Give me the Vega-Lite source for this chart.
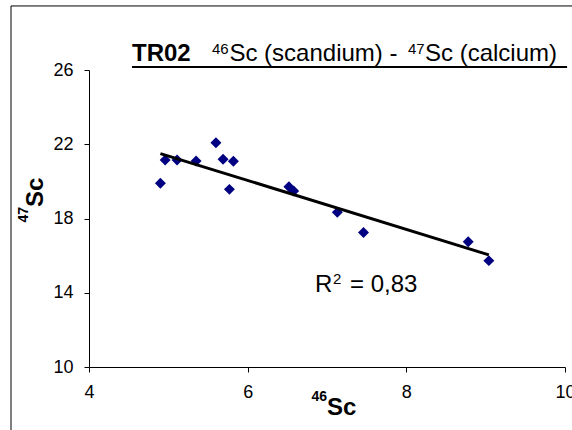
{
  "$schema": "https://vega.github.io/schema/vega-lite/v6.json",
  "autosize": {"type": "none"},
  "padding": {"left": 89, "top": 70, "right": 7, "bottom": 63},
  "width": 476,
  "height": 297,
  "background": "white",
  "config": {
    "view": {"stroke": null},
    "font": "Liberation Sans",
    "axis": {
      "grid": false,
      "domainColor": "black",
      "domainWidth": 1,
      "tickColor": "black",
      "tickSize": 5,
      "labelColor": "black",
      "labelFont": "Liberation Sans",
      "labelFontSize": 18,
      "labelFlush": false,
      "labelOverlap": false,
      "format": "d"
    }
  },
  "layer": [
    {
      "data": {"values": [{}]},
      "mark": {"type": "rect", "fill": null, "stroke": "black", "strokeWidth": 1, "clip": false},
      "encoding": {
        "x": {"datum": 3.017, "type": "quantitative"},
        "x2": {"datum": 11.5},
        "y": {"datum": 29.45, "type": "quantitative"},
        "y2": {"datum": 3.5}
      }
    },
    {
      "data": {"values": [
        {"sc46": 5.60, "sc47": 22.08},
        {"sc46": 4.96, "sc47": 21.15},
        {"sc46": 5.11, "sc47": 21.15},
        {"sc46": 5.35, "sc47": 21.10},
        {"sc46": 5.69, "sc47": 21.19},
        {"sc46": 5.82, "sc47": 21.08},
        {"sc46": 4.90, "sc47": 19.90},
        {"sc46": 5.77, "sc47": 19.57},
        {"sc46": 6.52, "sc47": 19.71},
        {"sc46": 6.58, "sc47": 19.48},
        {"sc46": 7.13, "sc47": 18.33},
        {"sc46": 7.46, "sc47": 17.25},
        {"sc46": 8.78, "sc47": 16.75},
        {"sc46": 9.04, "sc47": 15.73}
      ]},
      "layer": [
        {
          "mark": {"type": "point", "shape": "diamond", "filled": true, "color": "#000080", "size": 120, "opacity": 1},
          "encoding": {
            "x": {
              "field": "sc46", "type": "quantitative",
              "scale": {"domain": [4, 10], "nice": false, "zero": false},
              "axis": {"values": [4, 6, 8, 10], "title": null, "labelPadding": 11, "format": "d"}
            },
            "y": {
              "field": "sc47", "type": "quantitative",
              "scale": {"domain": [10, 26], "nice": false, "zero": false},
              "axis": {"values": [10, 14, 18, 22, 26], "title": null, "labelPadding": 11, "format": "d"}
            }
          }
        },
        {
          "transform": [{"regression": "sc47", "on": "sc46"}],
          "mark": {"type": "line", "color": "black", "strokeWidth": 3},
          "encoding": {
            "x": {"field": "sc46", "type": "quantitative"},
            "y": {"field": "sc47", "type": "quantitative"}
          }
        }
      ]
    },
    {
      "data": {"values": [{}]},
      "mark": {"type": "text", "text": "R", "font": "Liberation Sans", "fontSize": 24, "align": "left", "baseline": "alphabetic", "color": "black"},
      "encoding": {
        "x": {"datum": 6.849, "type": "quantitative"},
        "y": {"datum": 14.04, "type": "quantitative"}
      }
    },
    {
      "data": {"values": [{}]},
      "mark": {"type": "text", "text": "2", "font": "Liberation Sans", "fontSize": 15, "align": "left", "baseline": "alphabetic", "color": "black"},
      "encoding": {
        "x": {"datum": 7.076, "type": "quantitative"},
        "y": {"datum": 14.47, "type": "quantitative"}
      }
    },
    {
      "data": {"values": [{}]},
      "mark": {"type": "text", "text": "= 0,83", "font": "Liberation Sans", "fontSize": 24, "align": "left", "baseline": "alphabetic", "color": "black"},
      "encoding": {
        "x": {"datum": 7.29, "type": "quantitative"},
        "y": {"datum": 14.04, "type": "quantitative"}
      }
    },
    {
      "data": {"values": [{}]},
      "mark": {"type": "text", "text": "TR02", "font": "Liberation Sans", "fontSize": 24, "fontWeight": "bold", "align": "left", "baseline": "alphabetic", "color": "black"},
      "encoding": {
        "x": {"datum": 4.542, "type": "quantitative"},
        "y": {"datum": 26.485, "type": "quantitative"}
      }
    },
    {
      "data": {"values": [{}]},
      "mark": {"type": "text", "text": "46", "font": "Liberation Sans", "fontSize": 15, "align": "left", "baseline": "alphabetic", "color": "black"},
      "encoding": {
        "x": {"datum": 5.55, "type": "quantitative"},
        "y": {"datum": 26.862, "type": "quantitative"}
      }
    },
    {
      "data": {"values": [{}]},
      "mark": {"type": "text", "text": "Sc (scandium) - ", "font": "Liberation Sans", "fontSize": 24, "align": "left", "baseline": "alphabetic", "color": "black"},
      "encoding": {
        "x": {"datum": 5.77, "type": "quantitative"},
        "y": {"datum": 26.485, "type": "quantitative"}
      }
    },
    {
      "data": {"values": [{}]},
      "mark": {"type": "text", "text": "47", "font": "Liberation Sans", "fontSize": 15, "align": "left", "baseline": "alphabetic", "color": "black"},
      "encoding": {
        "x": {"datum": 8.021, "type": "quantitative"},
        "y": {"datum": 26.862, "type": "quantitative"}
      }
    },
    {
      "data": {"values": [{}]},
      "mark": {"type": "text", "text": "Sc (calcium)", "font": "Liberation Sans", "fontSize": 24, "align": "left", "baseline": "alphabetic", "color": "black"},
      "encoding": {
        "x": {"datum": 8.235, "type": "quantitative"},
        "y": {"datum": 26.485, "type": "quantitative"}
      }
    },
    {
      "data": {"values": [{}]},
      "mark": {"type": "rule", "color": "black", "strokeWidth": 2},
      "encoding": {
        "x": {"datum": 4.542, "type": "quantitative"},
        "x2": {"datum": 10.026},
        "y": {"datum": 26.16, "type": "quantitative"}
      }
    },
    {
      "data": {"values": [{}]},
      "mark": {"type": "text", "text": "Sc", "font": "Liberation Sans", "fontSize": 24, "fontWeight": "bold", "align": "left", "baseline": "alphabetic", "color": "black"},
      "encoding": {
        "x": {"datum": 7.0, "type": "quantitative"},
        "y": {"datum": 7.414, "type": "quantitative"}
      }
    },
    {
      "data": {"values": [{}]},
      "mark": {"type": "text", "text": "46", "font": "Liberation Sans", "fontSize": 14, "fontWeight": "bold", "align": "right", "baseline": "alphabetic", "color": "black"},
      "encoding": {
        "x": {"datum": 7.0, "type": "quantitative"},
        "y": {"datum": 8.17, "type": "quantitative"}
      }
    },
    {
      "data": {"values": [{}]},
      "mark": {"type": "text", "text": "Sc", "font": "Liberation Sans", "fontSize": 24, "fontWeight": "bold", "align": "left", "baseline": "alphabetic", "angle": 270, "color": "black"},
      "encoding": {
        "x": {"datum": 3.42, "type": "quantitative"},
        "y": {"datum": 18.62, "type": "quantitative"}
      }
    },
    {
      "data": {"values": [{}]},
      "mark": {"type": "text", "text": "47", "font": "Liberation Sans", "fontSize": 14, "fontWeight": "bold", "align": "right", "baseline": "alphabetic", "angle": 270, "color": "black"},
      "encoding": {
        "x": {"datum": 3.231, "type": "quantitative"},
        "y": {"datum": 18.62, "type": "quantitative"}
      }
    }
  ]
}
